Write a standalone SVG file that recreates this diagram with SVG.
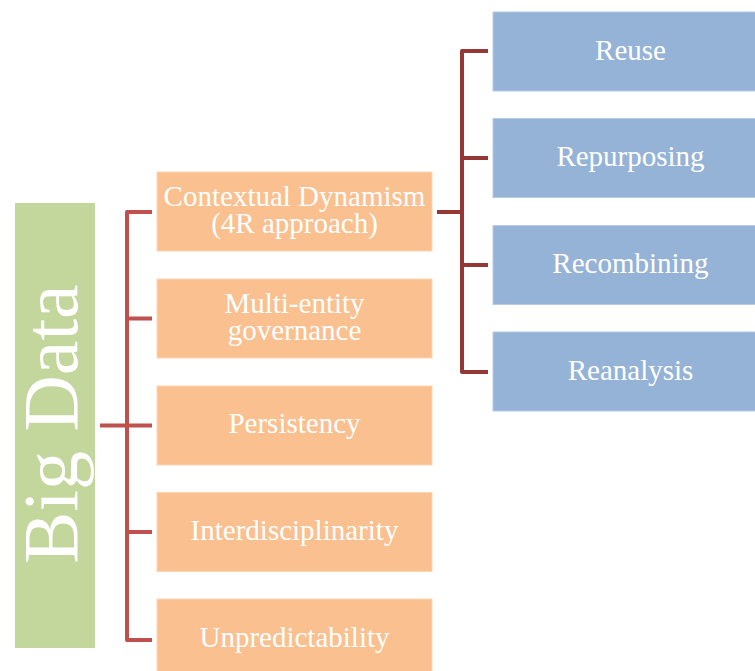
<svg xmlns="http://www.w3.org/2000/svg" width="755" height="671" viewBox="0 0 755 671">
  <style>
    .lbl { font-family: "Liberation Serif", "Times New Roman", serif; fill: #ffffff; text-anchor: middle; font-size: 29px; }
    .root { fill: #C3D69B; }
    .attr { fill: #FAC090; stroke: #FCD5B4; stroke-width: 1; }
    .r4 { fill: #95B3D7; stroke: #B8CCE4; stroke-width: 1; }
    .c1 { stroke: #C0504D; stroke-width: 4; fill: none; stroke-linecap: butt; stroke-linejoin: round; }
    .c2 { stroke: #953735; stroke-width: 4; fill: none; stroke-linecap: butt; stroke-linejoin: round; }
  </style>

  <!-- connectors -->
  <g id="connectors">
    <path class="c1" d="M152,212 H127 V640 H152"/>
    <path class="c1" d="M127,318.5 H152 M127,532 H152 M100,425.5 H152"/>
    <path class="c2" d="M488,51 H462 V372 H488"/>
    <path class="c2" d="M462,158 H488 M462,265 H488 M437,212 H462"/>
  </g>

  <!-- root -->
  <g id="big-data">
    <rect class="root" x="15" y="203" width="80" height="445"/>
    <text class="lbl" style="font-size:78px" transform="translate(77,424) rotate(-90)" x="0" y="0">Big Data</text>
  </g>

  <!-- attributes -->
  <g id="contextual-dynamism">
    <rect class="attr" x="157" y="172" width="275" height="79"/>
    <text class="lbl"><tspan x="294.5" y="206">Contextual Dynamism</tspan><tspan x="294.5" y="233">(4R approach)</tspan></text>
  </g>
  <g id="multi-entity-governance">
    <rect class="attr" x="157" y="279" width="275" height="79"/>
    <text class="lbl"><tspan x="294.5" y="313">Multi-entity</tspan><tspan x="294.5" y="340">governance</tspan></text>
  </g>
  <g id="persistency">
    <rect class="attr" x="157" y="386" width="275" height="79"/>
    <text class="lbl" x="294.5" y="433">Persistency</text>
  </g>
  <g id="interdisciplinarity">
    <rect class="attr" x="157" y="492.5" width="275" height="79"/>
    <text class="lbl" x="294.5" y="540">Interdisciplinarity</text>
  </g>
  <g id="unpredictability">
    <rect class="attr" x="157" y="599" width="275" height="79"/>
    <text class="lbl" x="294.5" y="647">Unpredictability</text>
  </g>

  <!-- 4R -->
  <g id="reuse">
    <rect class="r4" x="493" y="12" width="275" height="79"/>
    <text class="lbl" x="630.5" y="59.5">Reuse</text>
  </g>
  <g id="repurposing">
    <rect class="r4" x="493" y="118.5" width="275" height="79"/>
    <text class="lbl" x="630.5" y="166">Repurposing</text>
  </g>
  <g id="recombining">
    <rect class="r4" x="493" y="225.5" width="275" height="79"/>
    <text class="lbl" x="630.5" y="273">Recombining</text>
  </g>
  <g id="reanalysis">
    <rect class="r4" x="493" y="332" width="275" height="79"/>
    <text class="lbl" x="630.5" y="380">Reanalysis</text>
  </g>
</svg>
